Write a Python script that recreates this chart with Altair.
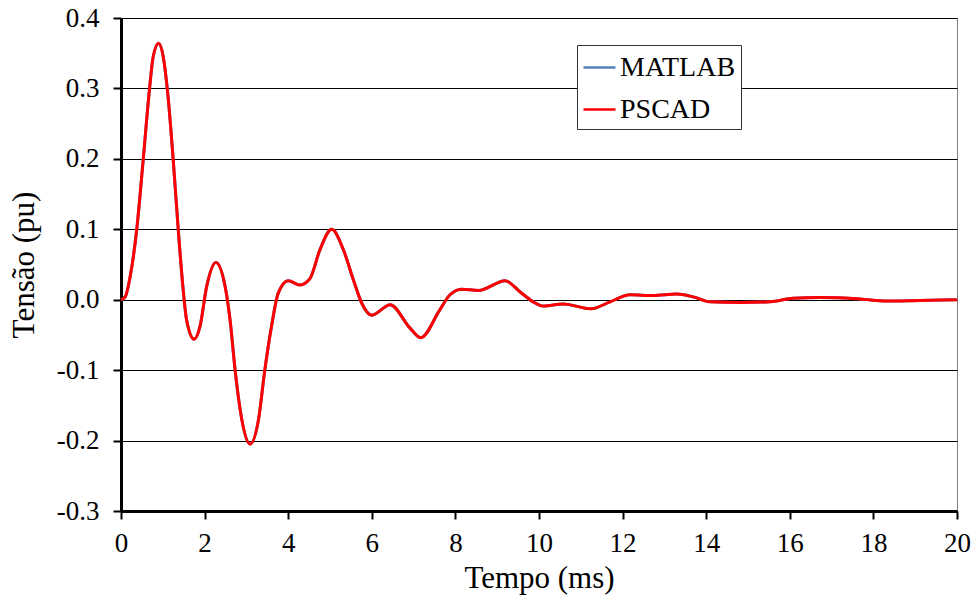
import altair as alt
import pandas as pd

t_ms = [0.0, 0.1, 0.22, 0.375, 0.53, 0.68, 0.77, 0.90, 1.01, 1.11, 1.25, 1.37, 1.48,
        1.57, 1.75, 1.89, 2.05, 2.27, 2.49, 2.61, 2.73, 2.89, 3.09, 3.29, 3.44, 3.60,
        3.76, 4.00, 4.28, 4.52, 4.76, 5.04, 5.32, 5.56, 5.76, 6.00, 6.44, 6.91, 7.17,
        7.63, 7.87, 8.15, 8.55, 9.19, 9.55, 9.86, 10.1, 10.58, 11.24, 11.7, 12.18,
        12.73, 13.29, 13.69, 14.09, 14.81, 15.53, 16.08, 16.72, 17.68, 18.32, 19.11, 20.0]
matlab_pu = [0.0, 0.004, 0.033, 0.099, 0.198, 0.298, 0.345, 0.364, 0.345, 0.298, 0.198,
             0.099, 0.019, -0.029, -0.056, -0.038, 0.019, 0.053, 0.019, -0.029, -0.10,
             -0.170, -0.205, -0.170, -0.10, -0.038, 0.009, 0.027, 0.021, 0.030, 0.071,
             0.100, 0.071, 0.028, -0.005, -0.022, -0.007, -0.040, -0.054, -0.014, 0.007,
             0.015, 0.013, 0.027, 0.011, -0.003, -0.009, -0.006, -0.013, -0.003, 0.007,
             0.006, 0.008, 0.004, -0.003, -0.004, -0.003, 0.002, 0.003, 0.001, -0.002,
             -0.001, 0.0]
pscad_pu = [0.0, 0.004, 0.033, 0.099, 0.198, 0.298, 0.345, 0.364, 0.345, 0.298, 0.198,
            0.099, 0.019, -0.029, -0.056, -0.038, 0.019, 0.053, 0.019, -0.029, -0.10,
            -0.170, -0.205, -0.170, -0.10, -0.038, 0.009, 0.027, 0.021, 0.030, 0.071,
            0.100, 0.071, 0.028, -0.005, -0.022, -0.007, -0.040, -0.054, -0.014, 0.007,
            0.015, 0.013, 0.027, 0.011, -0.003, -0.009, -0.006, -0.013, -0.003, 0.007,
            0.006, 0.008, 0.004, -0.003, -0.004, -0.003, 0.002, 0.003, 0.001, -0.002,
            -0.001, 0.0]
series_names = ["MATLAB", "PSCAD"]
series_colors = ["#4F81BD", "#FF0000"]
x_ticks = [0, 2, 4, 6, 8, 10, 12, 14, 16, 18, 20]
y_ticks = [-0.3, -0.2, -0.1, 0.0, 0.1, 0.2, 0.3, 0.4]

rows = []
for name, vals in zip(series_names, [matlab_pu, pscad_pu]):
    for i, (t, v) in enumerate(zip(t_ms, vals)):
        rows.append({"t": t, "v": v, "serie": name, "i": i})
df = pd.DataFrame(rows)

FONT = "Liberation Serif"

chart = alt.Chart(df).mark_line(interpolate="monotone", strokeWidth=3).encode(
    x=alt.X("t:Q", title="Tempo (ms)",
            scale=alt.Scale(domain=[0, 20], nice=False, zero=False),
            axis=alt.Axis(values=x_ticks, grid=False, format="d",
                          labelFlush=False, labelOverlap=False,
                          labelPadding=11, titlePadding=7)),
    y=alt.Y("v:Q", title="Tensão (pu)",
            scale=alt.Scale(domain=[-0.3, 0.4], nice=False, zero=False),
            axis=alt.Axis(values=y_ticks, grid=True, labelFlush=False,
                          labelExpr="datum.value < -0.0001 ? '-' + format(-datum.value, '.1f') : format(abs(datum.value), '.1f')",
                          labelPadding=14, titlePadding=16)),
    color=alt.Color("serie:N",
                    scale=alt.Scale(domain=series_names, range=series_colors),
                    legend=alt.Legend(title=None, orient="none", legendX=456, legendY=27,
                                      symbolType="stroke", symbolSize=1024,
                                      symbolStrokeWidth=2.5, labelFontSize=28,
                                      labelFont=FONT, labelColor="black",
                                      strokeColor="#333333", fillColor="white",
                                      padding=5, rowPadding=10, labelOffset=3,
                                      labelLimit=300)),
    order=alt.Order("i:Q"),
).properties(
    width=836, height=493,
    autosize=alt.AutoSizeParams(type="none"),
    padding={"left": 121, "top": 18, "right": 17, "bottom": 92},
).configure_view(
    stroke="#808080", strokeWidth=1
).configure_axis(
    labelFont=FONT, labelFontSize=27, labelColor="black",
    titleFont=FONT, titleFontSize=31, titleFontWeight="normal", titleColor="black",
    domainColor="black", domainWidth=3,
    tickColor="black", tickWidth=2, tickSize=8,
    gridColor="black", gridOpacity=1, gridWidth=1,
)

chart.save("out.html", embed_options={"renderer": "svg", "actions": False})
